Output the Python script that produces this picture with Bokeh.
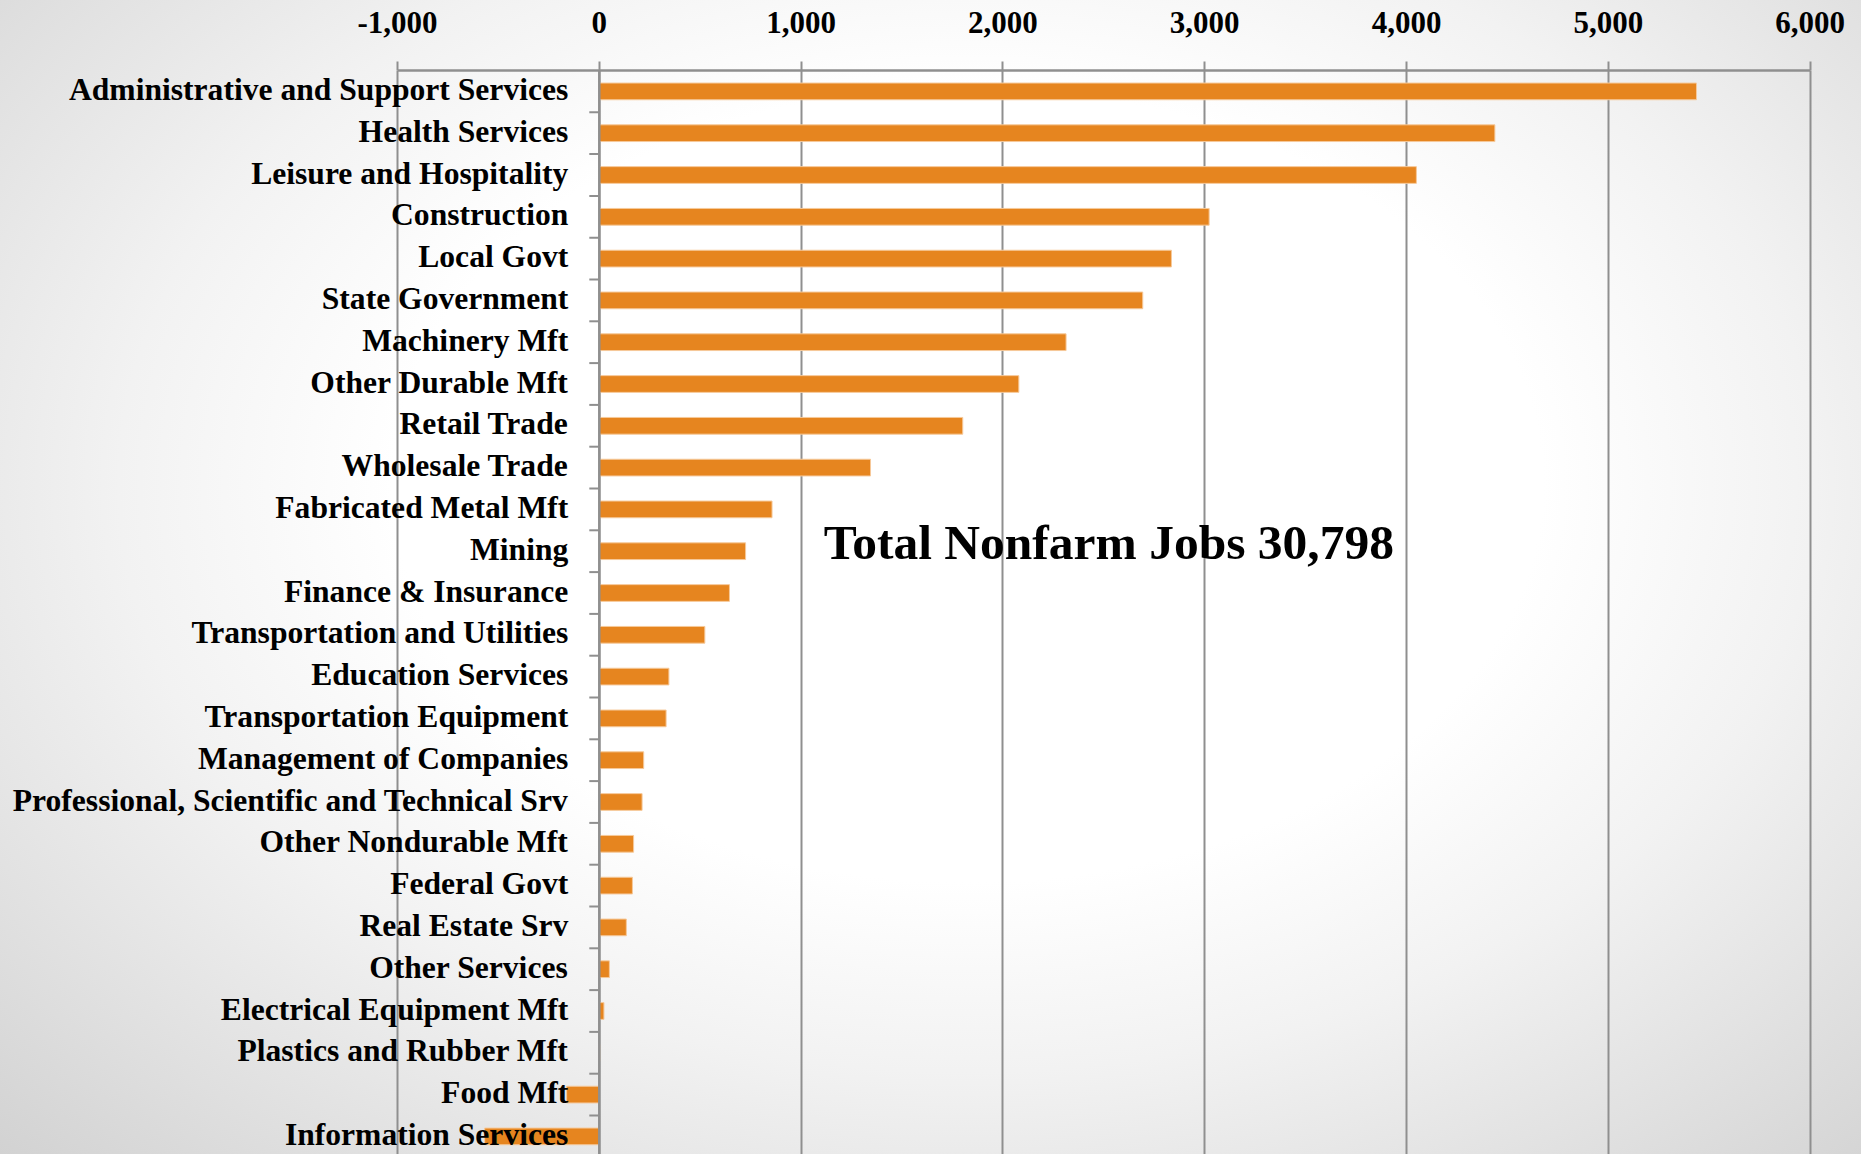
import numpy as np
from bokeh.plotting import figure
from bokeh.models import (Range1d, FixedTicker, NumeralTickFormatter, Span, Label,
                          ColumnDataSource)
from bokeh.core.properties import value
from bokeh.embed import file_html
from bokeh.resources import INLINE

categories = [
    "Administrative and Support Services", "Health Services", "Leisure and Hospitality",
    "Construction", "Local Govt", "State Government", "Machinery Mft", "Other Durable Mft",
    "Retail Trade", "Wholesale Trade", "Fabricated Metal Mft", "Mining",
    "Finance & Insurance", "Transportation and Utilities", "Education Services",
    "Transportation Equipment", "Management of Companies",
    "Professional, Scientific and Technical Srv", "Other Nondurable Mft", "Federal Govt",
    "Real Estate Srv", "Other Services", "Electrical Equipment Mft",
    "Plastics and Rubber Mft", "Food Mft", "Information Services",
]
jobs = [5437, 4438, 4049, 3022, 2835, 2693, 2313, 2079, 1801, 1344, 856, 725, 645,
        523, 345, 331, 220, 212, 170, 164, 134, 50, 23, 2, -162, -568]
x_ticks = [-1000, 0, 1000, 2000, 3000, 4000, 5000, 6000]
title_text = "Total Nonfarm Jobs 30,798"

FONT = "Liberation Serif"
GRID = "#8f8f8f"
BAR = "#E6851F"

W, H = 1861, 1154
top_border = 70
px_per_unit_x = 0.2018
zero_px = 598.8          # x of value 0 inside the figure
row_px = 41.8            # pixel height of one category row

idx = list(range(len(categories)))
frame_h = H - top_border
x_start = -zero_px / px_per_unit_x
x_end = (W - zero_px) / px_per_unit_x
y_top = -0.5
y_bottom = y_top + frame_h / row_px

p = figure(width=W, height=H, output_backend="svg", toolbar_location=None,
           x_range=Range1d(x_start, x_end), y_range=Range1d(y_bottom, y_top),
           x_axis_location="above", y_axis_location=None,
           min_border_left=0, min_border_right=0, min_border_bottom=0,
           min_border_top=top_border, outline_line_color=None)

p.background_fill_alpha = 0
p.border_fill_alpha = 0
p.styles = {"background": "radial-gradient(ellipse farthest-corner at 52% 42%, #ffffff 0%, #ffffff 42%, #f2f2f2 62%, #d2d2d2 100%)"}

ax = p.xaxis[0]
ax.ticker = FixedTicker(ticks=x_ticks)
ax.formatter = NumeralTickFormatter(format="0,0")
ax.bounds = (x_ticks[0], x_ticks[-1])
ax.axis_line_color = GRID
ax.axis_line_width = 2.5
ax.major_tick_line_color = GRID
ax.major_tick_line_width = 2
ax.major_tick_out = 9
ax.major_tick_in = 0
ax.minor_tick_line_color = None
ax.major_label_standoff = 29
ax.major_label_text_font = FONT
ax.major_label_text_font_style = "bold"
ax.major_label_text_font_size = "31px"
ax.major_label_text_color = "black"

p.xgrid.ticker = FixedTicker(ticks=x_ticks)
p.xgrid.grid_line_color = GRID
p.xgrid.grid_line_width = 2
p.ygrid.grid_line_color = None

src = ColumnDataSource(dict(y=idx, v=jobs, cat=categories))
p.hbar(y="y", left=0, right="v", height=0.4, source=src,
       fill_color=BAR, line_color="#F6C99A", line_width=1)

p.add_layout(Span(location=0, dimension="height", line_color=GRID, line_width=2.5))
bounds_y = [i + 0.5 for i in idx]
p.ray(x=0, y=bounds_y, length=10, angle=np.pi, length_units="screen",
      line_color=GRID, line_width=2)

p.text(x=0, y="y", text="cat", source=src, x_offset=-31, y_offset=-2,
       text_align="right", text_baseline="middle",
       text_font=value(FONT), text_font_style="bold", text_font_size="31.6px",
       text_color="black")

p.add_layout(Label(x=1112, y=10.8, text=title_text, text_align="left",
                   text_baseline="middle", text_font=FONT, text_font_style="bold",
                   text_font_size="49.5px", text_color="black"))

open("out.html", "w").write(file_html(p, INLINE))
